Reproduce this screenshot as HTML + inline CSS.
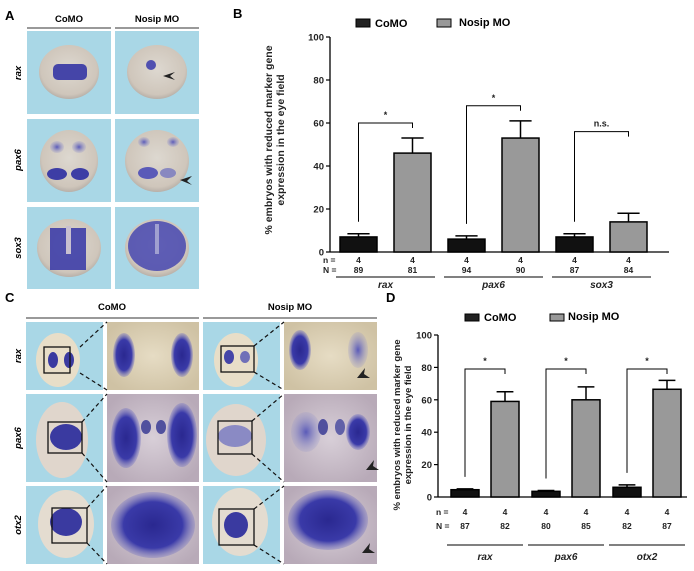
<!DOCTYPE html>
<html><head><meta charset="utf-8"><style>
body{margin:0;background:#fff;}
svg{display:block;font-family:"Liberation Sans",Arial,sans-serif;}
</style></head><body>
<svg id="fig" width="694" height="571" viewBox="0 0 694 571">
<defs>
 <radialGradient id="emb" cx="50%" cy="45%" r="55%"><stop offset="0" stop-color="#ddd8d0"/><stop offset="0.85" stop-color="#cfc6bb"/><stop offset="1" stop-color="#b8b0a8"/></radialGradient>
 <radialGradient id="blob" cx="50%" cy="50%" r="50%"><stop offset="0" stop-color="#2a2890"/><stop offset="0.7" stop-color="#3a3aa8"/><stop offset="1" stop-color="#6a6ac0" stop-opacity="0.3"/></radialGradient>
 <radialGradient id="blobL" cx="50%" cy="50%" r="50%"><stop offset="0" stop-color="#5a5ab8"/><stop offset="1" stop-color="#9090c8" stop-opacity="0.2"/></radialGradient>
 <radialGradient id="beige" cx="50%" cy="50%" r="60%"><stop offset="0" stop-color="#e6dcc4"/><stop offset="1" stop-color="#cfc2a4"/></radialGradient>
 <radialGradient id="lav" cx="50%" cy="50%" r="60%"><stop offset="0" stop-color="#d8cfd8"/><stop offset="1" stop-color="#b8aab8"/></radialGradient>
</defs>

<!-- Panel A -->
<g>
 <text x="5" y="20" font-size="13" font-weight="bold">A</text>
 <text x="69" y="22" font-size="9.5" font-weight="bold" text-anchor="middle">CoMO</text>
 <text x="157" y="22" font-size="9.5" font-weight="bold" text-anchor="middle">Nosip MO</text>
 <line x1="27" y1="28" x2="111" y2="28" stroke="#333" stroke-width="1"/>
 <line x1="115" y1="28" x2="199" y2="28" stroke="#333" stroke-width="1"/>
 <g font-size="9.5" font-weight="bold" font-style="italic">
  <text transform="translate(21,73) rotate(-90)" text-anchor="middle">rax</text>
  <text transform="translate(21,160) rotate(-90)" text-anchor="middle">pax6</text>
  <text transform="translate(21,248) rotate(-90)" text-anchor="middle">sox3</text>
 </g>
 <g>
  <rect x="27" y="31" width="84" height="83" fill="#a9d7e6"/><rect x="115" y="31" width="84" height="83" fill="#a9d7e6"/>
  <rect x="27" y="119" width="84" height="83" fill="#a9d7e6"/><rect x="115" y="119" width="84" height="83" fill="#a9d7e6"/>
  <rect x="27" y="207" width="84" height="82" fill="#a9d7e6"/><rect x="115" y="207" width="84" height="82" fill="#a9d7e6"/>
  <ellipse cx="69" cy="72" rx="30" ry="27" fill="url(#emb)"/>
  <rect x="53" y="64" width="34" height="16" rx="5" fill="#4545a8"/>
  <ellipse cx="157" cy="72" rx="30" ry="27" fill="url(#emb)"/>
  <ellipse cx="151" cy="65" rx="5" ry="5" fill="#5050b0"/>
  <path d="M163 76 l12 -4 -5 4 5 4z" fill="#222"/>
  <ellipse cx="69" cy="161" rx="29" ry="31" fill="url(#emb)"/>
  <ellipse cx="57" cy="147" rx="7" ry="6" fill="url(#blobL)"/><ellipse cx="79" cy="147" rx="7" ry="6" fill="url(#blobL)"/>
  <ellipse cx="57" cy="174" rx="10" ry="6" fill="#3d3da5"/><ellipse cx="80" cy="174" rx="9" ry="6" fill="#3d3da5"/>
  <ellipse cx="157" cy="161" rx="32" ry="31" fill="url(#emb)"/>
  <ellipse cx="144" cy="142" rx="6" ry="5" fill="url(#blobL)"/><ellipse cx="173" cy="142" rx="6" ry="5" fill="url(#blobL)"/>
  <ellipse cx="148" cy="173" rx="10" ry="6" fill="#5a5ab8"/><ellipse cx="168" cy="173" rx="8" ry="5" fill="#8888c0"/>
  <path d="M180 180 l12 -4 -5 5 5 4z" fill="#222"/>
  <ellipse cx="69" cy="248" rx="32" ry="29" fill="url(#emb)"/>
  <path d="M50 228 h36 v42 h-36z" fill="#3e3ea8" opacity="0.9"/>
  <rect x="66" y="226" width="5" height="28" fill="#c8c0d0"/>
  <ellipse cx="157" cy="248" rx="32" ry="29" fill="url(#emb)"/>
  <ellipse cx="157" cy="246" rx="29" ry="25" fill="#4848b0" opacity="0.85"/>
  <rect x="155" y="224" width="4" height="30" fill="#a0a0d0"/>
 </g>
</g>

<!-- Panel C -->
<g>
 <text x="5" y="302" font-size="13" font-weight="bold">C</text>
 <text x="112" y="310" font-size="9.5" font-weight="bold" text-anchor="middle">CoMO</text>
 <text x="290" y="310" font-size="9.5" font-weight="bold" text-anchor="middle">Nosip MO</text>
 <line x1="26" y1="318" x2="199" y2="318" stroke="#333"/>
 <line x1="203" y1="318" x2="377" y2="318" stroke="#333"/>
 <g font-size="9.5" font-weight="bold" font-style="italic">
  <text transform="translate(21,356) rotate(-90)" text-anchor="middle">rax</text>
  <text transform="translate(21,438) rotate(-90)" text-anchor="middle">pax6</text>
  <text transform="translate(21,525) rotate(-90)" text-anchor="middle">otx2</text>
 </g>
 <g>
  <rect x="26" y="322" width="77" height="68" fill="#a9d7e6"/><rect x="203" y="322" width="77" height="68" fill="#a9d7e6"/>
  <rect x="26" y="394" width="77" height="88" fill="#a9d7e6"/><rect x="203" y="394" width="77" height="88" fill="#a9d7e6"/>
  <rect x="26" y="486" width="77" height="78" fill="#a9d7e6"/><rect x="203" y="486" width="77" height="78" fill="#a9d7e6"/>
  <rect x="107" y="322" width="92" height="68" fill="url(#beige)"/><rect x="284" y="322" width="93" height="68" fill="url(#beige)"/>
  <rect x="107" y="394" width="92" height="88" fill="url(#lav)"/><rect x="284" y="394" width="93" height="88" fill="url(#lav)"/>
  <rect x="107" y="486" width="92" height="78" fill="url(#lav)"/><rect x="284" y="486" width="93" height="78" fill="url(#lav)"/>
  <ellipse cx="58" cy="360" rx="22" ry="27" fill="#e8dec8"/><ellipse cx="236" cy="360" rx="22" ry="27" fill="#e8dec8"/>
  <ellipse cx="62" cy="440" rx="26" ry="38" fill="#e0d6cc"/><ellipse cx="236" cy="440" rx="30" ry="36" fill="#e0d6cc"/>
  <ellipse cx="66" cy="524" rx="28" ry="34" fill="#e4dcd0"/><ellipse cx="240" cy="522" rx="28" ry="34" fill="#e4dcd0"/>
  <ellipse cx="53" cy="360" rx="5" ry="8" fill="#3a3aa0"/><ellipse cx="69" cy="360" rx="5" ry="8" fill="#3a3aa0"/>
  <ellipse cx="229" cy="357" rx="5" ry="7" fill="#4545a8"/><ellipse cx="245" cy="357" rx="5" ry="6" fill="#7070b8"/>
  <ellipse cx="66" cy="437" rx="16" ry="13" fill="#3a3aa0"/>
  <ellipse cx="235" cy="436" rx="17" ry="11" fill="#8a8ac4"/>
  <ellipse cx="66" cy="522" rx="16" ry="14" fill="#3a3aa0"/>
  <ellipse cx="236" cy="525" rx="12" ry="13" fill="#3a3aa0"/>
  <rect x="44" y="347" width="26" height="26" fill="none" stroke="#111" stroke-width="1.3"/>
  <rect x="48" y="422" width="34" height="31" fill="none" stroke="#111" stroke-width="1.3"/>
  <rect x="52" y="508" width="35" height="35" fill="none" stroke="#111" stroke-width="1.3"/>
  <rect x="221" y="346" width="33" height="26" fill="none" stroke="#111" stroke-width="1.3"/>
  <rect x="218" y="421" width="34" height="33" fill="none" stroke="#111" stroke-width="1.3"/>
  <rect x="219" y="509" width="35" height="36" fill="none" stroke="#111" stroke-width="1.3"/>
  <g stroke="#111" stroke-width="1.2" stroke-dasharray="4,3">
   <line x1="80" y1="347" x2="107" y2="322"/><line x1="80" y1="373" x2="107" y2="390"/>
   <line x1="82" y1="422" x2="107" y2="394"/><line x1="82" y1="453" x2="107" y2="482"/>
   <line x1="87" y1="508" x2="107" y2="486"/><line x1="87" y1="543" x2="107" y2="564"/>
   <line x1="254" y1="346" x2="284" y2="322"/><line x1="254" y1="372" x2="284" y2="390"/>
   <line x1="252" y1="421" x2="284" y2="394"/><line x1="252" y1="454" x2="284" y2="482"/>
   <line x1="254" y1="509" x2="284" y2="486"/><line x1="254" y1="545" x2="284" y2="564"/>
  </g>
  <ellipse cx="124" cy="355" rx="11" ry="22" fill="url(#blob)"/><ellipse cx="182" cy="355" rx="11" ry="22" fill="url(#blob)"/>
  <ellipse cx="300" cy="350" rx="11" ry="20" fill="url(#blob)"/><ellipse cx="358" cy="350" rx="10" ry="18" fill="url(#blobL)"/>
  <ellipse cx="126" cy="438" rx="15" ry="30" fill="url(#blob)"/><ellipse cx="182" cy="435" rx="15" ry="32" fill="url(#blob)"/>
  <ellipse cx="146" cy="427" rx="5" ry="7" fill="#50509e"/><ellipse cx="161" cy="427" rx="5" ry="7" fill="#50509e"/>
  <ellipse cx="306" cy="432" rx="15" ry="20" fill="url(#blobL)"/><ellipse cx="358" cy="432" rx="12" ry="18" fill="url(#blob)"/>
  <ellipse cx="323" cy="427" rx="5" ry="8" fill="#50509e"/><ellipse cx="340" cy="427" rx="5" ry="8" fill="#6060a8"/>
  <ellipse cx="153" cy="525" rx="42" ry="33" fill="url(#blob)"/>
  <ellipse cx="328" cy="520" rx="40" ry="30" fill="url(#blob)"/>
  <g fill="#222">
   <path d="M357 378 l8 -10 -1 6 6 4z"/><path d="M366 470 l8 -10 -1 6 6 4z"/><path d="M362 553 l8 -10 -1 6 6 4z"/>
  </g>
 </g>
</g>

<!-- Chart B -->
<g id="chartB">
 <text x="233" y="18" font-size="13" font-weight="bold">B</text>
 <rect x="356" y="19" width="14" height="8" fill="#222" stroke="#000"/>
 <text x="375" y="27" font-size="11" font-weight="bold">CoMO</text>
 <rect x="437" y="19" width="14" height="8" fill="#999" stroke="#000"/>
 <text x="459" y="26" font-size="11" font-weight="bold">Nosip MO</text>
 <text transform="translate(276,140) rotate(-90)" font-size="10.5" font-weight="bold" text-anchor="middle" fill="#222"><tspan x="0" dy="-4">% embryos with reduced marker gene</tspan><tspan x="0" dy="12">expression in the eye field</tspan></text>
</g>

<!-- Chart D -->
<g id="chartD">
 <text x="386" y="302" font-size="13" font-weight="bold">D</text>
 <rect x="465" y="314" width="14" height="7" fill="#222" stroke="#000"/>
 <text x="484" y="321" font-size="11" font-weight="bold">CoMO</text>
 <rect x="550" y="314" width="14" height="7" fill="#999" stroke="#000"/>
 <text x="568" y="320" font-size="11" font-weight="bold">Nosip MO</text>
 <text transform="translate(404,425) rotate(-90)" font-size="9.5" font-weight="bold" text-anchor="middle" fill="#222"><tspan x="0" dy="-4">% embryos with reduced marker gene</tspan><tspan x="0" dy="11">expression in the eye field</tspan></text>
</g>

<script>
var ticks = [0, 20, 40, 60, 80, 100];
var bGenes = ["rax", "pax6", "sox3"];
var bComo = [7, 6, 7];
var bComoErr = [8.5, 7.5, 8.5];
var bNosip = [46, 53, 14];
var bNosipErr = [53, 61, 18];
var bSig = ["*", "*", "n.s."];
var bBracket = [60, 68, 56];
var bN = [[89, 81], [94, 90], [87, 84]];
var dGenes = ["rax", "pax6", "otx2"];
var dComo = [4.5, 3.5, 6];
var dComoErr = [5, 4, 7.5];
var dNosip = [59, 60, 66.5];
var dNosipErr = [65, 68, 72];
var dSig = ["*", "*", "*"];
var dBracket = [79, 79, 79];
var dN = [[87, 82], [80, 85], [82, 87]];

var NS = "http://www.w3.org/2000/svg";
function mk(parent, tag, attrs) {
  var e = document.createElementNS(NS, tag);
  for (var k in attrs) e.setAttribute(k, attrs[k]);
  parent.appendChild(e);
  return e;
}
function draw(g, cfg) {
  function y(v) { return cfg.y0 - (cfg.y0 - cfg.y100) * v / 100; }
  var ax = mk(g, "line", {x1: cfg.ax, y1: cfg.y100, x2: cfg.ax, y2: cfg.y0, stroke: "#000", "stroke-width": 1.3});
  
  
  var xl = mk(g, "line", {x1: cfg.ax, y1: cfg.y0, x2: cfg.xEnd, y2: cfg.y0, stroke: "#000", "stroke-width": 1.3});
  
  
  ticks.forEach(function (t) {
    mk(g, "line", {x1: cfg.ax - 4, y1: y(t), x2: cfg.ax, y2: y(t), stroke: "#000", "stroke-width": 1.2});
    var tl = mk(g, "text", {x: cfg.ax - 6, y: y(t) + 3.5, "font-size": 9.5, "font-weight": "bold", "text-anchor": "end", fill: "#222"});
    tl.textContent = t;
    
    
  });
  var nl = mk(g, "text", {x: cfg.nX, y: cfg.nY, "font-size": 8.5, "font-weight": "bold", fill: "#222"});
  nl.textContent = "n =";
  
  
  var Nl = mk(g, "text", {x: cfg.nX, y: cfg.NY, "font-size": 8.5, "font-weight": "bold", fill: "#222"});
  Nl.textContent = "N =";
  
  
  cfg.genes.forEach(function (gname, i) {
    var gx = cfg.start + i * cfg.groupStep;
    var c1 = gx, c2 = gx + cfg.pairStep;
    var vals = [cfg.como[i], cfg.nosip[i]], errs = [cfg.comoErr[i], cfg.nosipErr[i]];
    [c1, c2].forEach(function (cx, j) {
      var b = mk(g, "rect", {x: cx, y: y(vals[j]), width: cfg.bw, height: cfg.y0 - y(vals[j]), fill: j ? "#999" : "#111", stroke: "#000", "stroke-width": 1.5});
      
      
      var mx = cx + cfg.bw / 2;
      var e = mk(g, "path", {d: "M" + mx + " " + y(vals[j]) + "V" + y(errs[j]) + "M" + (mx - cfg.bw * 0.3) + " " + y(errs[j]) + "H" + (mx + cfg.bw * 0.3), stroke: "#000", "stroke-width": 1.5, fill: "none"});
      
      
      var t1 = mk(g, "text", {x: mx, y: cfg.nY, "font-size": 8.5, "font-weight": "bold", "text-anchor": "middle", fill: "#222"});
      t1.textContent = "4";
      
      
      var t2 = mk(g, "text", {x: mx, y: cfg.NY, "font-size": 8.5, "font-weight": "bold", "text-anchor": "middle", fill: "#222"});
      t2.textContent = cfg.N[i][j];
      
      
    });
    var lx = c1 + cfg.bw / 2, rx = c2 + cfg.bw / 2, by = y(cfg.bracket[i]);
    var br = mk(g, "path", {d: "M" + lx + " " + (y(cfg.comoErr[i]) - 12) + "V" + by + "H" + rx + "V" + (by + 5), stroke: "#000", "stroke-width": 1, fill: "none"});
    
    
    var st = mk(g, "text", {x: (lx + rx) / 2, y: by - 5, "font-size": 9, "font-weight": "bold", "text-anchor": "middle", fill: "#222"});
    st.textContent = cfg.sig[i];
    
    
    var ul = mk(g, "line", {x1: c1 - cfg.ulPad, y1: cfg.ulY, x2: c2 + cfg.bw + cfg.ulPad, y2: cfg.ulY, stroke: "#000", "stroke-width": 1});
    
    
    var gl = mk(g, "text", {x: (c1 + c2 + cfg.bw) / 2, y: cfg.gY, "font-size": 10, "font-weight": "bold", "font-style": "italic", "text-anchor": "middle", fill: "#222"});
    gl.textContent = gname;
    
    
  });
}
draw(document.getElementById("chartB"), {ax: 330, xEnd: 669, y0: 252, y100: 37, start: 340, groupStep: 108, pairStep: 54, bw: 37,
  genes: bGenes, como: bComo, comoErr: bComoErr, nosip: bNosip, nosipErr: bNosipErr, sig: bSig, bracket: bBracket, N: bN,
  nX: 323, nY: 263, NY: 273, ulY: 277, ulPad: 4, gY: 288});
draw(document.getElementById("chartD"), {ax: 438, xEnd: 687, y0: 497, y100: 335, start: 451, groupStep: 81, pairStep: 40, bw: 28,
  genes: dGenes, como: dComo, comoErr: dComoErr, nosip: dNosip, nosipErr: dNosipErr, sig: dSig, bracket: dBracket, N: dN,
  nX: 436, nY: 515, NY: 529, ulY: 545, ulPad: 4, gY: 560});
</script>
</svg>
</body></html>
